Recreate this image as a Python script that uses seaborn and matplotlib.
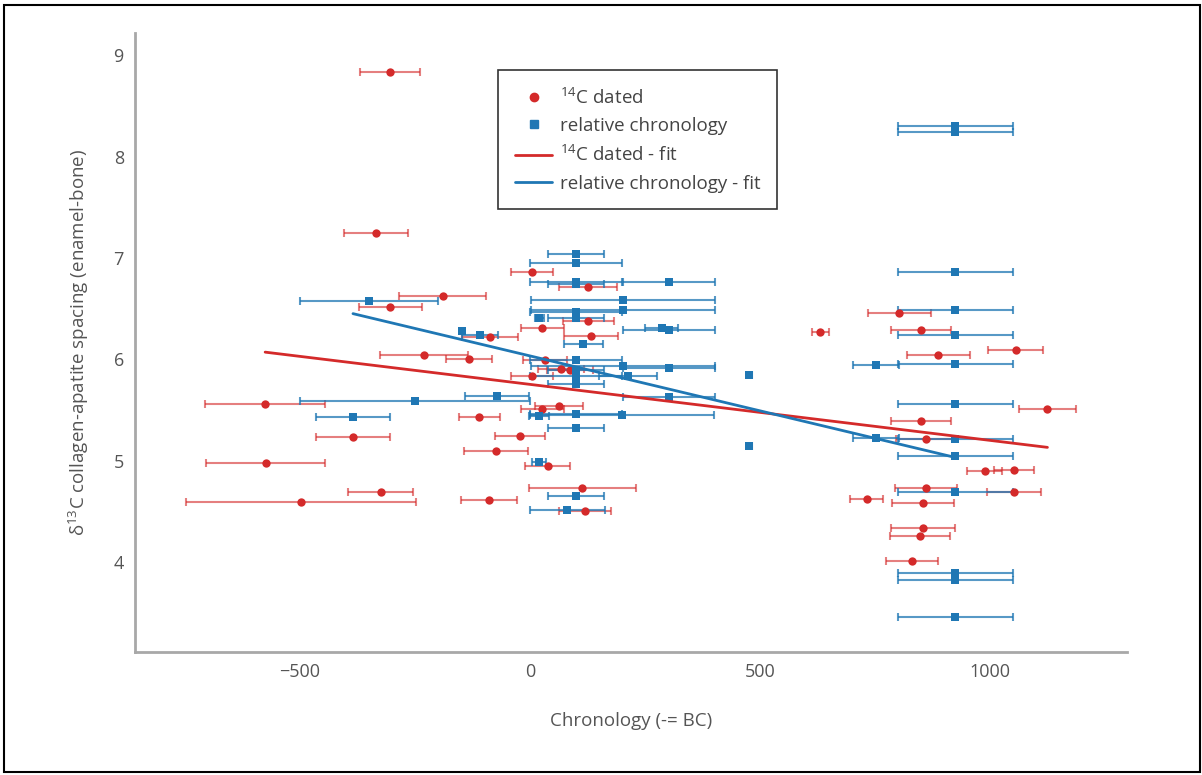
import matplotlib
matplotlib.use('Agg')
import matplotlib.pyplot as plt
from matplotlib.patches import Rectangle
from matplotlib.lines import Line2D
import seaborn as sns
import pandas as pd

# 14C dated samples: chronology (negative = BC), spacing, chronology error
red_x = [-305, -335, -190, -304, -230, -133, 4, 127, 127, 27, -88, 133, 33, 67, 86, 4,
         63, 27, -110, -22, -74, 38, 114, -89, 120, -576, -385, -575, -325, -499, 803,
         631, 850, 888, 1056, 1125, 850, 861, 989, 1052, 861, 1052, 732, 855, 855, 848, 831]
red_y = [8.84, 7.25, 6.62, 6.52, 6.04, 6.00, 6.86, 6.71, 6.38, 6.31, 6.22, 6.23, 5.99,
         5.90, 5.89, 5.83, 5.54, 5.51, 5.43, 5.24, 5.09, 4.95, 4.73, 4.61, 4.50, 5.56,
         5.23, 4.98, 4.69, 4.59, 6.46, 6.27, 6.29, 6.04, 6.09, 5.51, 5.39, 5.21, 4.90,
         4.91, 4.73, 4.69, 4.62, 4.58, 4.33, 4.26, 4.01]
red_err = [65, 70, 94, 68, 96, 50, 46, 63, 56, 47, 61, 59, 48, 50, 50, 46, 52, 46, 45, 55,
           70, 48, 117, 61, 56, 130, 81, 130, 70, 250, 68, 18, 65, 69, 60, 62, 65, 65, 38,
           43, 68, 58, 36, 67, 70, 66, 57]

# relative chronology samples
blue_x = [-350, -148, -109, -385, -250, -72, 100, 100, 302, 100, 100, 202, 202, 100, 20,
          100, 286, 302, 116, 100, 202, 302, 100, 100, 212, 477, 100, 302, 100, 20, 200,
          100, 477, 20, 100, 81, 925, 925, 925, 925, 925, 752, 925, 925, 752, 925, 925,
          925, 925, 925, 925]
blue_y = [6.57, 6.28, 6.24, 5.43, 5.59, 5.64, 7.04, 6.95, 6.76, 6.76, 6.74, 6.58, 6.49,
          6.47, 6.41, 6.41, 6.31, 6.29, 6.15, 5.99, 5.93, 5.91, 5.89, 5.83, 5.83, 5.84,
          5.76, 5.63, 5.46, 5.44, 5.45, 5.32, 5.14, 4.99, 4.65, 4.51, 8.30, 8.24, 6.86,
          6.49, 6.24, 5.94, 5.95, 5.56, 5.22, 5.21, 5.04, 4.69, 3.89, 3.82, 3.46]
blue_err = [150, 0, 40, 81, 250, 70, 60, 100, 100, 100, 60, 200, 200, 100, 10, 60, 35, 100,
            43, 100, 200, 100, 60, 100, 63, 5, 60, 100, 100, 22, 200, 60, 5, 15, 60, 82,
            125, 125, 125, 125, 125, 50, 125, 125, 50, 125, 125, 125, 125, 125, 125]

# fitted lines (end points)
red_fit_x = [-576, 1125]
red_fit_y = [6.07, 5.13]
blue_fit_x = [-385, 925]
blue_fit_y = [6.45, 5.03]

RED = '#d42a2a'
BLUE = '#1f77b4'

sns.set_style('white')
plt.rcParams['font.family'] = ['Open Sans', 'DejaVu Sans']
plt.rcParams['mathtext.fontset'] = 'custom'
plt.rcParams['mathtext.rm'] = 'Open Sans'

red_df = pd.DataFrame({'x': red_x, 'y': red_y})
blue_df = pd.DataFrame({'x': blue_x, 'y': blue_y})

fig, ax = plt.subplots(figsize=(12.02, 7.75), dpi=100)
fig.subplots_adjust(left=0.1123, right=0.9376, bottom=0.1587, top=0.9574)

ax.errorbar(red_x, red_y, xerr=red_err, fmt='none', ecolor=RED, alpha=0.6,
            elinewidth=1.5, capsize=3, capthick=1.5, zorder=2)
ax.errorbar(blue_x, blue_y, xerr=blue_err, fmt='none', ecolor=BLUE, alpha=0.75,
            elinewidth=1.5, capsize=3, capthick=1.5, zorder=2)

sns.scatterplot(data=red_df, x='x', y='y', ax=ax, color=RED, marker='o', s=36,
                linewidth=0, zorder=3, legend=False)
sns.scatterplot(data=blue_df, x='x', y='y', ax=ax, color=BLUE, marker='s', s=32,
                linewidth=0, zorder=3, legend=False)

sns.lineplot(x=red_fit_x, y=red_fit_y, ax=ax, color=RED, linewidth=2, zorder=4)
sns.lineplot(x=blue_fit_x, y=blue_fit_y, ax=ax, color=BLUE, linewidth=2, zorder=4)

ax.set_xlim(-859, 1298)
ax.set_ylim(3.11, 9.22)
ax.set_xticks([-500, 0, 500, 1000])
ax.set_yticks([4, 5, 6, 7, 8, 9])

sns.despine(ax=ax)
for side in ['left', 'bottom']:
    ax.spines[side].set_color('#a8a8a8')
    ax.spines[side].set_linewidth(2)
ax.tick_params(axis='both', direction='out', length=4, width=1, color='#999999',
               labelsize=13, labelcolor='#555555', pad=4)

ax.set_xlabel('Chronology (-= BC)', fontsize=13.5, color='#555555', labelpad=22)
ax.set_ylabel('δ$^{13}$C collagen-apatite spacing (enamel-bone)', fontsize=13.5,
              color='#555555', labelpad=16)

handles = [
    Line2D([], [], marker='o', color=RED, linestyle='none', markersize=6),
    Line2D([], [], marker='s', color=BLUE, linestyle='none', markersize=6),
    Line2D([], [], color=RED, linewidth=2),
    Line2D([], [], color=BLUE, linewidth=2),
]
labels = ['$^{14}$C dated', 'relative chronology', '$^{14}$C dated - fit',
          'relative chronology - fit']
leg = ax.legend(handles, labels, loc='upper left', bbox_to_anchor=(498 / 1202, 1 - 70 / 775),
                bbox_transform=fig.transFigure, fontsize=13.5, frameon=True, fancybox=False,
                edgecolor='black', borderpad=0.9, labelspacing=0.5, handlelength=2.0,
                handletextpad=0.4, borderaxespad=0)
leg.get_frame().set_linewidth(1.2)
for t in leg.get_texts():
    t.set_color('#444444')

fig.patches.append(Rectangle((4 / 1202, 3 / 775), 1196 / 1202, 767 / 775,
                             transform=fig.transFigure, fill=False,
                             edgecolor='black', linewidth=1.5))

fig.savefig('out.png', dpi=100, facecolor='white')
